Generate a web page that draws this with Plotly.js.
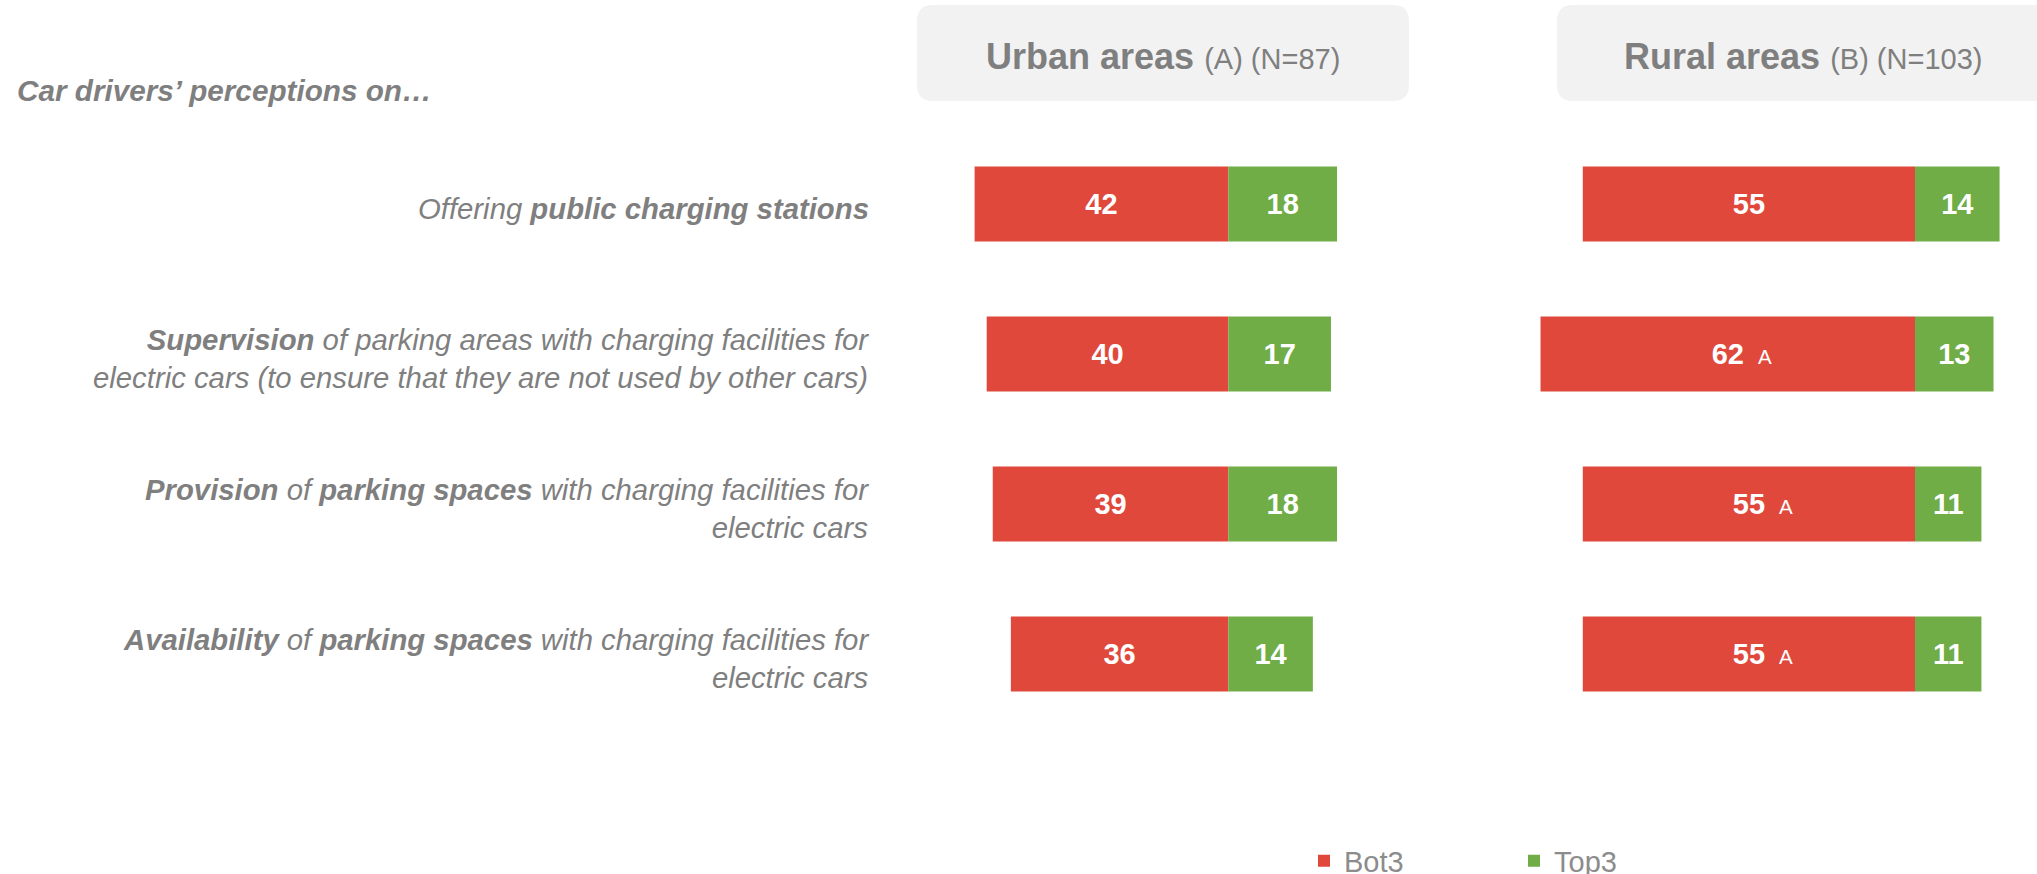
<!DOCTYPE html>
<html><head><meta charset="utf-8">
<script src="https://cdn.plot.ly/plotly-3.0.1.min.js"></script>
<style>html,body{margin:0;padding:0;background:#fff;} #chart{width:2037px;height:874px;}</style>
</head><body><div id="chart"></div>
<script>
const items = [
  '<i>Offering <b>public charging stations</b></i>',
  '<i><b>Supervision</b> of parking areas with charging facilities for<br>electric cars (to ensure that they are not used by other cars)</i>',
  '<i><b>Provision</b> of <b>parking spaces</b> with charging facilities for<br>electric cars</i>',
  '<i><b>Availability</b> of <b>parking spaces</b> with charging facilities for<br>electric cars</i>'
];
const urbanBot = [42, 40, 39, 36];
const urbanTop = [18, 17, 18, 14];
const ruralBot = [55, 62, 55, 55];
const ruralTop = [14, 13, 11, 11];
const urbanSig = ['', '', '', ''];
const ruralSig = ['', 'A', 'A', 'A'];
const groupNames = ['Urban areas', 'Rural areas'];
const groupCodes = ['(A)', '(B)'];
const groupN = [87, 103];
const seriesNames = ['Bot3', 'Top3'];
const questionTitle = 'Car drivers’ perceptions on…';

const W = 2037, H = 874;
const px = v => v / W;
const py = v => 1 - v / H;
const RED = '#E0483C', GREEN = '#70AD47';
const FONT = '"Liberation Sans", Arial, sans-serif';
const GRAY = '#7f7f7f';

function barTrace(vals, sign, name, color, xa, showleg) {
  return {
    type: 'bar', orientation: 'h', y: items, x: vals.map(v => sign * v),
    text: vals.map(String), name: name, legendgroup: name, showlegend: showleg,
    marker: {color: color, line: {width: 0}}, xaxis: xa, yaxis: 'y', width: 0.5,
    textposition: 'inside', insidetextanchor: 'middle', constraintext: 'none',
    textfont: {family: FONT, size: 29, color: '#ffffff', weight: 'bold'},
    hoverinfo: 'x+y'
  };
}

const data = [
  barTrace(urbanBot, -1, seriesNames[0], RED, 'x', true),
  barTrace(urbanTop, 1, seriesNames[1], GREEN, 'x', true),
  barTrace(ruralBot, -1, seriesNames[0], RED, 'x2', false),
  barTrace(ruralTop, 1, seriesNames[1], GREEN, 'x2', false)
];

function roundRect(x0, y0, x1, y1, r) {
  const X = v => px(v), Y = v => py(v);
  return `M${X(x0 + r)},${Y(y0)} L${X(x1 - r)},${Y(y0)} Q${X(x1)},${Y(y0)} ${X(x1)},${Y(y0 + r)} ` +
         `L${X(x1)},${Y(y1 - r)} Q${X(x1)},${Y(y1)} ${X(x1 - r)},${Y(y1)} ` +
         `L${X(x0 + r)},${Y(y1)} Q${X(x0)},${Y(y1)} ${X(x0)},${Y(y1 - r)} ` +
         `L${X(x0)},${Y(y0 + r)} Q${X(x0)},${Y(y0)} ${X(x0 + r)},${Y(y0)} Z`;
}

const shapes = [
  {type: 'path', xref: 'paper', yref: 'paper', path: roundRect(917, 5, 1409, 101, 16), fillcolor: '#f2f2f2', line: {width: 0}, layer: 'below'},
  {type: 'path', xref: 'paper', yref: 'paper', path: roundRect(1557, 5, 2052, 101, 16), fillcolor: '#f2f2f2', line: {width: 0}, layer: 'below'}
];

const headerX = [1163, 1803];
const annotations = [];
groupNames.forEach((g, k) => {
  annotations.push({
    xref: 'paper', yref: 'paper', x: px(headerX[k]), y: py(57), xanchor: 'center', yanchor: 'middle',
    showarrow: false,
    text: `<b>${g}</b> <span style="font-size:29px">${groupCodes[k]} (N=${groupN[k]})</span>`,
    font: {family: FONT, size: 36, color: GRAY}
  });
});
annotations.push({
  xref: 'paper', yref: 'paper', x: px(15), y: py(90), xanchor: 'left', yanchor: 'middle',
  showarrow: false, text: `<b><i>${questionTitle}</i></b>`,
  font: {family: FONT, size: 29.7, color: GRAY}
});
items.forEach((lab, i) => {
  annotations.push({
    xref: 'paper', yref: 'y', x: px(871), y: i, xanchor: 'right', yanchor: 'middle', align: 'right',
    showarrow: false, yshift: -4, text: lab, font: {family: FONT, size: 29.3, color: GRAY}
  });
});
function sigAnn(sig, bot, xa) {
  sig.forEach((s, i) => {
    if (!s) return;
    annotations.push({
      xref: xa, yref: 'y', x: -bot[i] / 2, y: i, xanchor: 'center', yanchor: 'middle',
      xshift: 37, yshift: -2, showarrow: false, text: s,
      font: {family: FONT, size: 20.5, color: '#ffffff'}
    });
  });
}
sigAnn(urbanSig, urbanBot, 'x');
sigAnn(ruralSig, ruralBot, 'x2');

const SCALE = 6.04;          // px per percentage point
const urbanZero = 1228.3, ruralZero = 1915;
const ud = [880, 1420], rd = [1450, 2037];

const axisBase = {showgrid: false, zeroline: false, showticklabels: false, showline: false, ticks: '', fixedrange: true};

const layout = {
  width: W, height: H,
  margin: {l: 0, r: 0, t: 0, b: 0, pad: 0, autoexpand: false},
  paper_bgcolor: '#ffffff', plot_bgcolor: 'rgba(0,0,0,0)',
  barmode: 'relative', bargap: 0.5,
  font: {family: FONT, color: GRAY},
  xaxis: Object.assign({}, axisBase, {domain: [px(ud[0]), px(ud[1])], range: [(ud[0] - urbanZero) / SCALE, (ud[1] - urbanZero) / SCALE], anchor: 'y'}),
  xaxis2: Object.assign({}, axisBase, {domain: [px(rd[0]), px(rd[1])], range: [(rd[0] - ruralZero) / SCALE, (rd[1] - ruralZero) / SCALE], anchor: 'y'}),
  yaxis: Object.assign({}, axisBase, {type: 'category', domain: [0, 1], range: [(H - 204) / 150, -204 / 150], anchor: 'x'}),
  shapes: shapes,
  annotations: annotations,
  showlegend: true,
  legend: {
    orientation: 'h', xref: 'paper', yref: 'paper', x: px(1304), y: py(861), xanchor: 'left', yanchor: 'middle',
    font: {family: FONT, size: 29, color: '#8c8c8c'}, entrywidth: 165, traceorder: 'normal',
    bgcolor: 'rgba(0,0,0,0)', borderwidth: 0
  }
};

Plotly.newPlot('chart', data, layout, {staticPlot: true, displayModeBar: false});
</script></body></html>
